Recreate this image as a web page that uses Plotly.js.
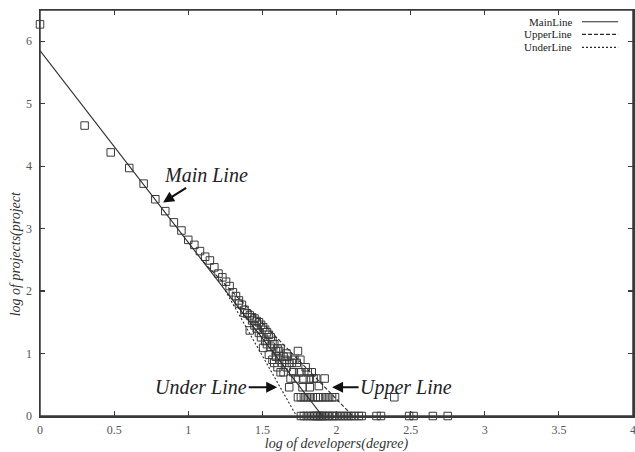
<!DOCTYPE html>
<html>
<head>
<meta charset="utf-8">
<script src="https://cdn.plot.ly/plotly-3.0.1.min.js"></script>
<style>html,body{margin:0;padding:0;background:#fff;}#chart{width:635px;height:452px;}</style>
</head>
<body>
<div id="chart"></div>
<script>
// Observed points: x = log of developers (degree), y = log of projects
var pointX = [
  0.000, 0.301, 0.477, 0.602, 0.699, 0.778, 0.845, 0.903, 0.954, 1.000,
  1.041, 1.079, 1.114, 1.146, 1.176, 1.204, 1.230, 1.255, 1.279, 1.301,
  1.322, 1.342, 1.342, 1.362, 1.380, 1.380, 1.398, 1.415, 1.415, 1.431,
  1.431, 1.447, 1.447, 1.462, 1.462, 1.477, 1.477, 1.491, 1.491, 1.505,
  1.505, 1.519, 1.519, 1.531, 1.531, 1.544, 1.544, 1.556, 1.556, 1.568,
  1.568, 1.580, 1.580, 1.591, 1.591, 1.602, 1.602, 1.613, 1.613, 1.623,
  1.623, 1.633, 1.643, 1.643, 1.653, 1.663, 1.663, 1.672, 1.681, 1.681,
  1.690, 1.699, 1.708, 1.716, 1.724, 1.732, 1.740, 1.748, 1.756, 1.763,
  1.771, 1.778, 1.792, 1.806, 1.820, 1.820, 1.833, 1.845, 1.863, 1.881,
  1.920,
  1.740, 1.760, 1.780, 1.800, 1.820, 1.840, 1.860, 1.875, 1.890, 1.910,
  1.930, 1.950, 1.970, 1.990, 2.390,
  1.760, 1.780, 1.800, 1.820, 1.840, 1.850, 1.860, 1.870, 1.880, 1.890,
  1.900, 1.910, 1.920, 1.940, 1.950, 1.970, 1.980, 2.000, 2.020, 2.040,
  2.060, 2.080, 2.100, 2.120, 2.150, 2.170, 2.270, 2.300, 2.490, 2.520,
  2.650, 2.750
];
var pointY = [
  6.27, 4.65, 4.22, 3.97, 3.72, 3.47, 3.28, 3.10, 2.97, 2.82,
  2.74, 2.64, 2.55, 2.49, 2.38, 2.28, 2.22, 2.15, 2.08, 1.98,
  1.92, 1.85, 1.80, 1.78, 1.70, 1.65, 1.64, 1.61, 1.37, 1.58,
  1.53, 1.56, 1.45, 1.52, 1.40, 1.50, 1.33, 1.46, 1.26, 1.42,
  1.09, 1.38, 1.20, 1.34, 1.15, 1.30, 0.98, 1.26, 1.11, 1.20,
  0.90, 1.15, 0.85, 0.95, 1.04, 1.08, 0.78, 1.04, 0.90, 1.08,
  0.70, 0.85, 0.70, 0.95, 0.90, 1.00, 0.78, 0.95, 0.46, 0.85,
  0.60, 0.85, 0.70, 0.90, 0.60, 0.85, 1.04, 0.70, 0.90, 0.70,
  0.46, 0.60, 0.78, 0.70, 0.60, 0.46, 0.70, 0.60, 0.60, 0.48,
  0.60,
  0.30, 0.30, 0.30, 0.30, 0.30, 0.30, 0.30, 0.30, 0.30, 0.30,
  0.30, 0.30, 0.30, 0.30, 0.30,
  0, 0, 0, 0, 0, 0, 0, 0, 0, 0,
  0, 0, 0, 0, 0, 0, 0, 0, 0, 0,
  0, 0, 0, 0, 0, 0, 0, 0, 0, 0,
  0, 0
];
// Fitted lines (endpoints)
var mainLineX = [0, 1.905];
var mainLineY = [5.85, 0];
var upperLineX = [1.10, 2.11];
var upperLineY = [2.47, 0];
var underLineX = [1.25, 1.73];
var underLineY = [2.01, 0];

var seriesNames = ['MainLine', 'UpperLine', 'UnderLine'];
var xTitle = 'log of developers(degree)';
var yTitle = 'log of projects(project';

var lineColor = '#2a2a2a';
var dashes = ['solid', '4px,2px', '2px,2px'];
var traces = [
  {x: pointX, y: pointY, mode: 'markers', type: 'scatter', cliponaxis: false, showlegend: false,
   marker: {symbol: 'square-open', size: 7.5, color: '#3a3a3a', line: {width: 1, color: '#3a3a3a'}}},
  {x: mainLineX, y: mainLineY, mode: 'lines', type: 'scatter', name: seriesNames[0], showlegend: false,
   line: {color: lineColor, width: 1.1, dash: dashes[0]}},
  {x: upperLineX, y: upperLineY, mode: 'lines', type: 'scatter', name: seriesNames[1], showlegend: false,
   line: {color: lineColor, width: 1.1, dash: dashes[1]}},
  {x: underLineX, y: underLineY, mode: 'lines', type: 'scatter', name: seriesNames[2], showlegend: false,
   line: {color: lineColor, width: 1.1, dash: dashes[2]}}
];

var serif = 'Liberation Serif, Times New Roman, serif';
var axisCommon = {
  showline: true, mirror: 'ticks', linecolor: '#3a3a3a', linewidth: 1.5,
  ticks: 'inside', ticklen: 5, tickwidth: 1.2, tickcolor: '#3a3a3a',
  showgrid: false, zeroline: false, ticklabeloverflow: 'allow',
  tickfont: {family: serif, size: 12, color: '#555'}
};

var legendYs = [0.971, 0.940, 0.908];
var annotations = [
  {xref: 'paper', yref: 'paper', x: -0.041, y: 0.40, xanchor: 'center', yanchor: 'middle',
   text: '<i>' + yTitle + '</i>', showarrow: false,
   textangle: -90, font: {family: serif, size: 14, color: '#333'}},
  {x: 0.83, y: 3.42, xref: 'x', yref: 'y', text: '<i>Main Line</i>', showarrow: true,
   ax: 43, ay: -27, arrowhead: 2, arrowsize: 1, arrowwidth: 2.2, arrowcolor: '#111', standoff: 0,
   font: {family: serif, size: 20, color: '#222'}},
  {x: 1.60, y: 0.46, xref: 'x', yref: 'y', text: '<i>Under Line</i>', showarrow: true,
   ax: -76, ay: 0, arrowhead: 2, arrowsize: 1, arrowwidth: 2.2, arrowcolor: '#111', standoff: 0,
   font: {family: serif, size: 20, color: '#222'}},
  {x: 1.97, y: 0.46, xref: 'x', yref: 'y', text: '<i>Upper Line</i>', showarrow: true,
   ax: 74, ay: 0, arrowhead: 2, arrowsize: 1, arrowwidth: 2.2, arrowcolor: '#111', standoff: 0,
   font: {family: serif, size: 20, color: '#222'}}
];
var shapes = [
  {type: 'rect', xref: 'paper', yref: 'paper', x0: 0, x1: 1, y0: 0, y1: 1,
   line: {color: '#3a3a3a', width: 1.5}, layer: 'above'}
];
for (var i = 0; i < seriesNames.length; i++) {
  annotations.push({xref: 'paper', yref: 'paper', x: 0.899, y: legendYs[i], xanchor: 'right', yanchor: 'middle',
    text: seriesNames[i], showarrow: false, borderpad: 0, font: {family: serif, size: 11, color: '#222'}});
  shapes.push({type: 'line', xref: 'paper', yref: 'paper', x0: 0.914, x1: 0.975, y0: legendYs[i], y1: legendYs[i],
    line: {color: lineColor, width: 1.1, dash: dashes[i]}});
}

var layout = {
  width: 635, height: 452,
  margin: {l: 40, r: 2, t: 10, b: 36},
  paper_bgcolor: '#fff', plot_bgcolor: '#fff',
  showlegend: false,
  xaxis: Object.assign({}, axisCommon, {range: [0, 4], dtick: 0.5, tick0: 0, ticklabelstandoff: 2,
    title: {text: '<i>' + xTitle + '</i>', standoff: 2, font: {family: serif, size: 14, color: '#333'}}}),
  yaxis: Object.assign({}, axisCommon, {range: [0, 6.5], dtick: 1, tick0: 0, ticklabelstandoff: 4}),
  annotations: annotations,
  shapes: shapes
};

Plotly.newPlot('chart', traces, layout, {displayModeBar: false, staticPlot: true});
</script>
</body>
</html>
